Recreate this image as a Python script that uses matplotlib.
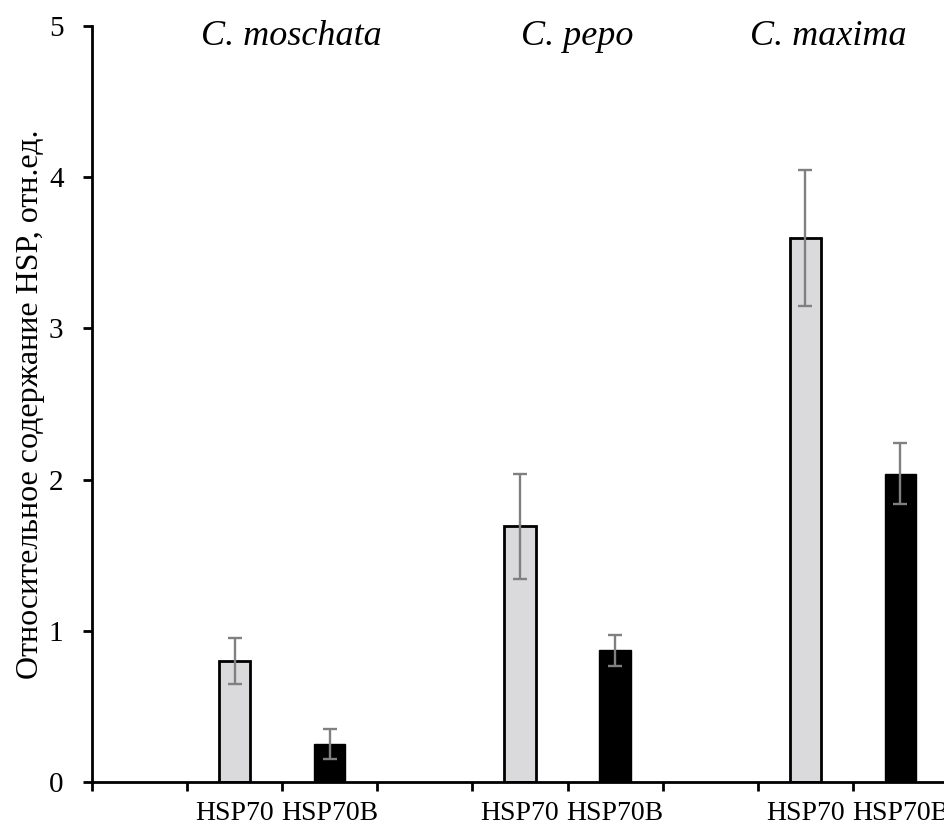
import matplotlib
matplotlib.use('Agg')
import matplotlib.pyplot as plt

# данные
species = ['C. moschata', 'C. pepo', 'C. maxima']
hsp70 = [0.80, 1.69, 3.60]
hsp70_err = [0.15, 0.35, 0.45]
hsp70b = [0.25, 0.87, 2.04]
hsp70b_err = [0.10, 0.10, 0.20]
cat_labels = ['', 'HSP70', 'HSP70B'] * 3
species_x = [1.60, 4.60, 7.24]

plt.rcParams['font.family'] = ['Liberation Serif', 'DejaVu Serif']

fig = plt.figure(figsize=(9.45, 8.27), dpi=100)
ax = fig.add_axes([92 / 945, 1 - 782 / 827, 856 / 945, 756 / 827])

x70 = [3 * i + 1 for i in range(3)]
x70b = [3 * i + 2 for i in range(3)]

ax.bar(x70, hsp70, width=0.33, color='#DADADC', edgecolor='black', linewidth=2, zorder=2)
ax.bar(x70b, hsp70b, width=0.33, color='black', edgecolor='black', linewidth=1, zorder=2)
ax.errorbar(x70, hsp70, yerr=hsp70_err, fmt='none', ecolor='#808080',
            elinewidth=1.7, capsize=4.8, capthick=1.7, zorder=3)
ax.errorbar(x70b, hsp70b, yerr=hsp70b_err, fmt='none', ecolor='#808080',
            elinewidth=1.7, capsize=4.8, capthick=1.7, zorder=3)

ax.set_xlim(-0.5, 8.5)
ax.set_ylim(0, 5)
ax.set_yticks(range(6))
ax.set_xticks(range(9))
ax.set_xticklabels(cat_labels)
ax.set_xticks([i - 0.5 for i in range(10)], minor=True)
ax.tick_params(axis='x', which='major', length=0, pad=14, labelsize=20)
ax.tick_params(axis='x', which='minor', length=6.5, width=2, direction='out')
ax.tick_params(axis='y', length=6.5, width=2, direction='out', pad=14, labelsize=21)

for s in ['top', 'right']:
    ax.spines[s].set_visible(False)
ax.spines['left'].set_linewidth(2)
ax.spines['bottom'].set_linewidth(2)

ax.set_ylabel('Относительное содержание HSP, отн.ед.', fontsize=23, labelpad=3)

for name, xs in zip(species, species_x):
    ax.text(xs, 4.93, name, ha='center', va='center', fontsize=26, style='italic')

fig.savefig('out.png', dpi=100)
